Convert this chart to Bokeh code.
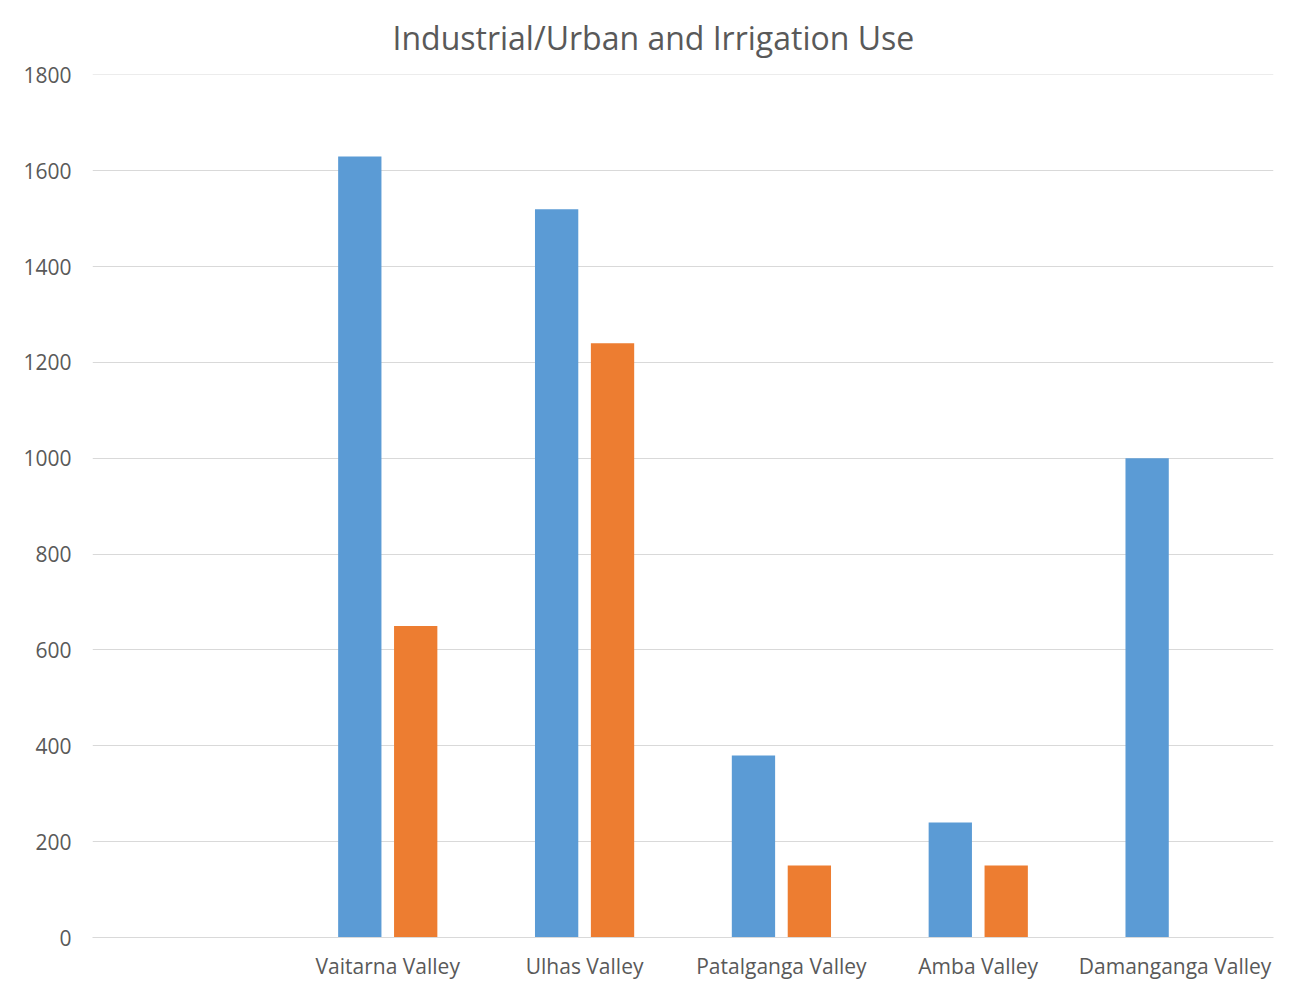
from bokeh.plotting import figure
from bokeh.models import FactorRange, Range1d, SingleIntervalTicker, ColumnDataSource
from bokeh.transform import dodge
from bokeh.embed import file_html
from bokeh.resources import INLINE

title_text = "Industrial/Urban and Irrigation Use"
categories = [" ", "Vaitarna Valley", "Ulhas Valley", "Patalganga Valley", "Amba Valley", "Damanganga Valley"]
industrial_urban = [0, 1630, 1520, 380, 240, 1000]
irrigation = [0, 650, 1240, 150, 150, 0]

source = ColumnDataSource(dict(cat=categories, a=industrial_urban, b=irrigation))

FONT = "Open Sans"
p = figure(width=1294, height=982, output_backend="svg", toolbar_location=None,
           x_range=FactorRange(*categories, range_padding=0), y_range=Range1d(0, 1801),
           title=title_text,
           min_border_left=92, min_border_right=21, min_border_top=74, min_border_bottom=44)

p.vbar(x=dodge("cat", -0.142, range=p.x_range), top="a", width=0.22, source=source,
       fill_color="#5B9BD5", line_color=None)
p.vbar(x=dodge("cat", 0.142, range=p.x_range), top="b", width=0.22, source=source,
       fill_color="#ED7D31", line_color=None)

p.title.align = "left"
p.title.offset = 300
p.title.vertical_align = "top"
p.title.text_font = FONT
p.title.text_font_size = "32px"
p.title.text_font_style = "normal"
p.title.text_color = "#595959"
p.title.standoff = 28

p.outline_line_color = None
p.xgrid.grid_line_color = None
p.ygrid.grid_line_color = "#D9D9D9"
p.ygrid.grid_line_width = 1
p.yaxis.ticker = SingleIntervalTicker(interval=200)
p.yaxis.axis_line_color = None
p.yaxis.major_tick_line_color = None
p.yaxis.minor_tick_line_color = None
p.yaxis.major_tick_out = 0
p.yaxis.minor_tick_out = 0
p.yaxis.major_label_text_font = FONT
p.yaxis.major_label_text_font_size = "21px"
p.yaxis.major_label_text_color = "#595959"
p.yaxis.major_label_standoff = 21

p.xaxis.axis_line_color = "#D9D9D9"
p.xaxis.major_tick_line_color = None
p.xaxis.minor_tick_line_color = None
p.xaxis.major_tick_out = 0
p.xaxis.minor_tick_out = 0
p.xaxis.major_label_text_font = FONT
p.xaxis.major_label_text_font_size = "21px"
p.xaxis.major_label_text_color = "#595959"
p.xaxis.major_label_standoff = 14

open("out.html", "w").write(file_html(p, INLINE))
